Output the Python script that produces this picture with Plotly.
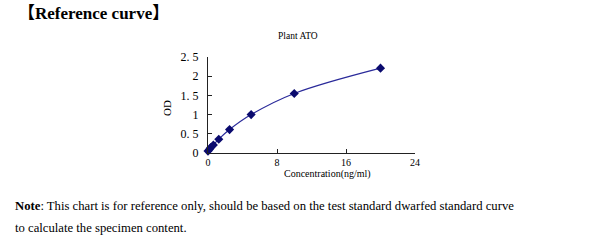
import plotly.graph_objects as go

conc = [0, 0.156, 0.312, 0.625, 1.25, 2.5, 5, 10, 20]
od = [0.05, 0.09, 0.14, 0.21, 0.36, 0.61, 1.0, 1.55, 2.21]
x_ticks = [0, 8, 16, 24]
x_ticktext = ["0", "8", "16", "24"]
y_ticks = [0, 0.5, 1, 1.5, 2, 2.5]
y_ticktext = ["0", "0. 5", "1", "1. 5", "2", "2. 5"]

serif = "Liberation Serif, Times New Roman, Noto Sans CJK SC, serif"

fig = go.Figure()
fig.add_trace(go.Scatter(
    x=conc, y=od, mode="lines+markers",
    line=dict(color="#2a2a9a", width=1.2, shape="spline"),
    marker=dict(symbol="diamond", size=7, color="#0a0a6e"),
    showlegend=False, cliponaxis=False,
))

fig.update_layout(
    width=600, height=247,
    margin=dict(l=208, r=185, t=57, b=94),
    paper_bgcolor="white", plot_bgcolor="white",
    font=dict(family=serif, color="black"),
    xaxis=dict(range=[0, 24], tickvals=x_ticks, ticktext=x_ticktext,
               showgrid=False, zeroline=False, showline=True, linecolor="#222",
               linewidth=1, ticks="inside", ticklen=4, tickcolor="#222",
               tickfont=dict(size=10, family=serif)),
    yaxis=dict(range=[0, 2.5], tickvals=y_ticks, ticktext=y_ticktext,
               showgrid=False, zeroline=False, showline=True, linecolor="#222",
               linewidth=1, ticks="inside", ticklen=4, tickcolor="#222",
               ticklabelstandoff=6,
               tickfont=dict(size=12, family=serif)),
    annotations=[
        dict(text="<b>【Reference curve】</b>", x=16, y=14,
             showarrow=False, xanchor="left", yanchor="middle",
             font=dict(size=17, family=serif, color="black")),
        dict(text="Plant ATO", x=298, y=36, showarrow=False,
             xanchor="center", yanchor="middle", font=dict(size=9.5, family=serif)),
        dict(text="OD", x=167, y=108, showarrow=False, textangle=-90,
             xanchor="center", yanchor="middle", font=dict(size=11, family=serif)),
        dict(text="Concentration(ng/ml)", x=327, y=174, showarrow=False,
             xanchor="center", yanchor="middle", font=dict(size=10, family=serif)),
        dict(text="<b>Note</b>: This chart is for reference only, should be based on the test standard dwarfed standard curve",
             x=13, y=206, showarrow=False, xanchor="left", yanchor="middle",
             font=dict(size=12.7, family=serif)),
        dict(text="to calculate the specimen content.",
             x=13, y=228, showarrow=False, xanchor="left", yanchor="middle",
             font=dict(size=12.7, family=serif)),
    ],
)

# convert pixel positions of annotations into paper coordinates
W, H = 600, 247
l, r, t, b = 208, 185, 57, 94
pw, ph = W - l - r, H - t - b
anns = []
for a in fig.layout.annotations:
    a = a.to_plotly_json()
    px, py = a["x"], a["y"]
    a["x"] = (px - l) / pw
    a["y"] = 1 - (py - t) / ph
    a["xref"] = "paper"; a["yref"] = "paper"
    anns.append(a)
fig.layout.annotations = anns

fig.write_html("out.html")
